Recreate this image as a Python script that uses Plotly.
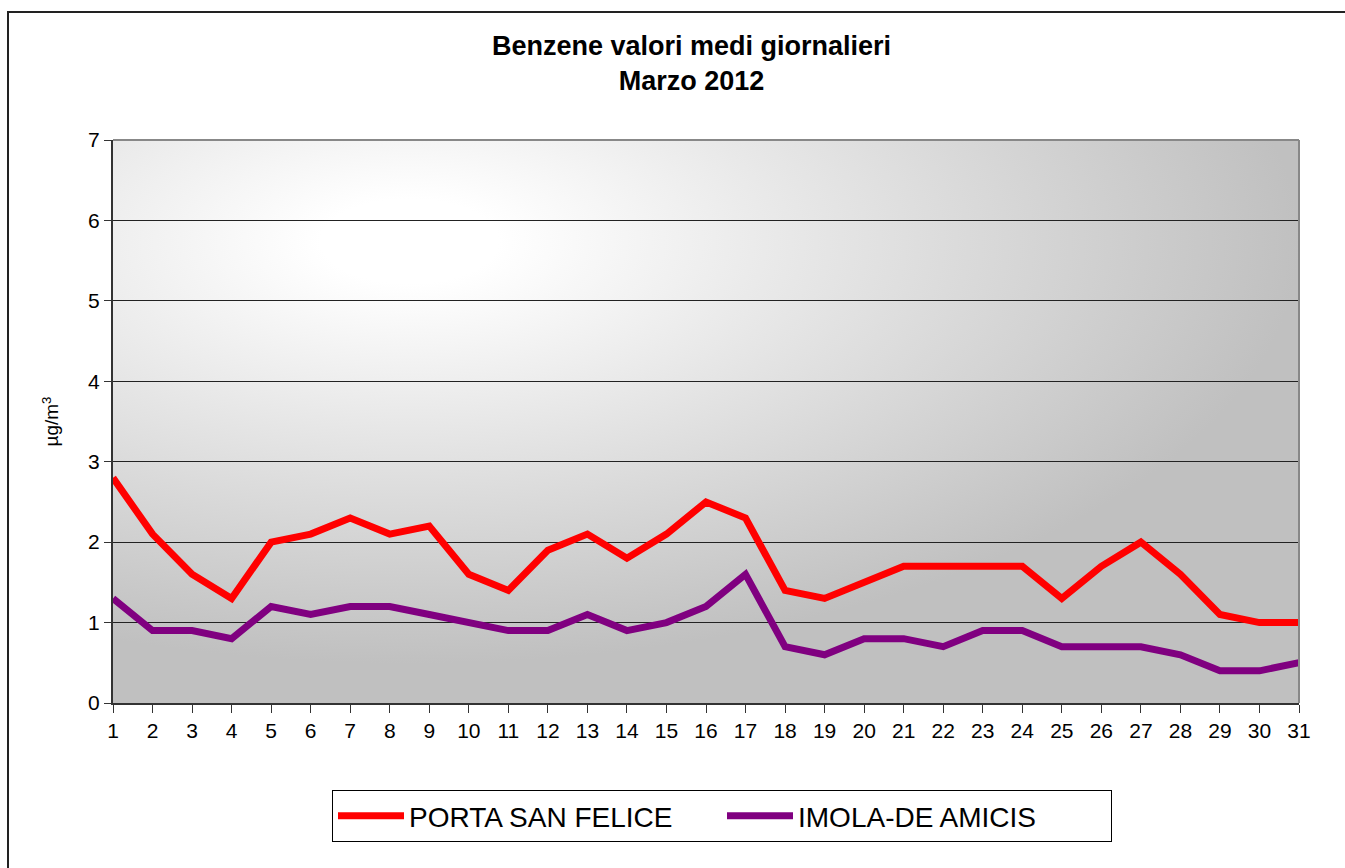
import base64

import plotly.graph_objects as go

DAYS = list(range(1, 32))
PORTA_SAN_FELICE = [2.8, 2.1, 1.6, 1.3, 2.0, 2.1, 2.3, 2.1, 2.2, 1.6,
                    1.4, 1.9, 2.1, 1.8, 2.1, 2.5, 2.3, 1.4, 1.3, 1.5,
                    1.7, 1.7, 1.7, 1.7, 1.3, 1.7, 2.0, 1.6, 1.1, 1.0, 1.0]
IMOLA_DE_AMICIS = [1.3, 0.9, 0.9, 0.8, 1.2, 1.1, 1.2, 1.2, 1.1, 1.0,
                   0.9, 0.9, 1.1, 0.9, 1.0, 1.2, 1.6, 0.7, 0.6, 0.8,
                   0.8, 0.7, 0.9, 0.9, 0.7, 0.7, 0.7, 0.6, 0.4, 0.4, 0.5]

W, H = 1345, 868
L, R, T, B = 113, 1299, 140, 703   # plot area in pixels
FONT = "Liberation Sans, Arial, sans-serif"


def px_x(x):
    return (x - L) / (R - L)


def px_y(y):
    return (B - y) / (B - T)


# radial grey gradient (Excel style) as an svg background image
svg = (
    '<svg xmlns="http://www.w3.org/2000/svg" width="100" height="100" '
    'viewBox="0 0 100 100" preserveAspectRatio="none">'
    '<defs><radialGradient id="g" cx="0.25" cy="0.18" r="0.75" fx="0.25" fy="0.18">'
    '<stop offset="0" stop-color="#ffffff"/>'
    '<stop offset="0.1" stop-color="#ffffff"/>'
    '<stop offset="1" stop-color="#c0c0c0"/>'
    '</radialGradient></defs>'
    '<rect x="0" y="0" width="100" height="100" fill="url(#g)"/></svg>'
)
bg_src = "data:image/svg+xml;base64," + base64.b64encode(svg.encode()).decode()

fig = go.Figure()
fig.add_trace(go.Scatter(x=DAYS, y=PORTA_SAN_FELICE, mode="lines", name="PORTA SAN FELICE",
                         line=dict(color="#ff0000", width=7)))
fig.add_trace(go.Scatter(x=DAYS, y=IMOLA_DE_AMICIS, mode="lines", name="IMOLA-DE AMICIS",
                         line=dict(color="#800080", width=7)))

fig.update_layout(
    width=W, height=H,
    margin=dict(l=L, r=W - R, t=T, b=H - B),
    paper_bgcolor="white",
    plot_bgcolor="rgba(0,0,0,0)",
    font=dict(family=FONT, color="black", size=21),
    showlegend=True,
    legend=dict(orientation="h", x=px_x(722), y=px_y(816), xanchor="center", yanchor="middle",
                bordercolor="black", borderwidth=1, bgcolor="white",
                font=dict(family=FONT, size=28, color="black"),
                entrywidth=308, itemwidth=66),
    images=[dict(source=bg_src, xref="paper", yref="paper", x=0, y=1, sizex=1, sizey=1,
                 xanchor="left", yanchor="top", sizing="stretch", layer="below")],
)

fig.update_xaxes(range=[1, 31], tickmode="array", tickvals=DAYS, ticktext=[str(d) for d in DAYS],
                 showgrid=False, zeroline=False, showline=True, linecolor="#333333", linewidth=2,
                 ticks="outside", ticklen=8, tickcolor="#333333", tickwidth=1,
                 tickfont=dict(size=21, family=FONT))
fig.update_yaxes(range=[0, 7], dtick=1, showgrid=True, gridcolor="#222222", gridwidth=1,
                 zeroline=False, showline=True, linecolor="#333333", linewidth=2,
                 ticks="outside", ticklen=7, tickcolor="#333333", tickwidth=1,
                 tickfont=dict(size=21, family=FONT))

# grey top/right border of the plot area
fig.add_shape(type="line", xref="paper", yref="paper", x0=0, x1=1, y0=1, y1=1,
              line=dict(color="#888888", width=2))
fig.add_shape(type="line", xref="paper", yref="paper", x0=1, x1=1, y0=0, y1=1,
              line=dict(color="#888888", width=2))

# outer chart frame (cut by the image edge on the right and bottom)
fig.add_shape(type="rect", xref="paper", yref="paper",
              x0=px_x(8), x1=px_x(W + 20), y0=px_y(H + 20), y1=px_y(12),
              line=dict(color="#222222", width=2), fillcolor="rgba(0,0,0,0)")

fig.add_annotation(text="<b>Benzene valori medi giornalieri</b><br><b>Marzo 2012</b>",
                   xref="paper", yref="paper", x=px_x(691), y=px_y(63),
                   xanchor="center", yanchor="middle", showarrow=False,
                   font=dict(family=FONT, size=27, color="black"))

fig.add_annotation(text="µg/m<sup>3</sup>", xref="paper", yref="paper",
                   x=px_x(50), y=0.5, xanchor="center", yanchor="middle",
                   textangle=-90, showarrow=False,
                   font=dict(family=FONT, size=19, color="black"))

# drop the default 8px page margin so the figure sits at the window origin
fig.write_html("out.html", config={"displayModeBar": False},
               post_script="document.body.style.margin='0';document.body.style.overflow='hidden';")
